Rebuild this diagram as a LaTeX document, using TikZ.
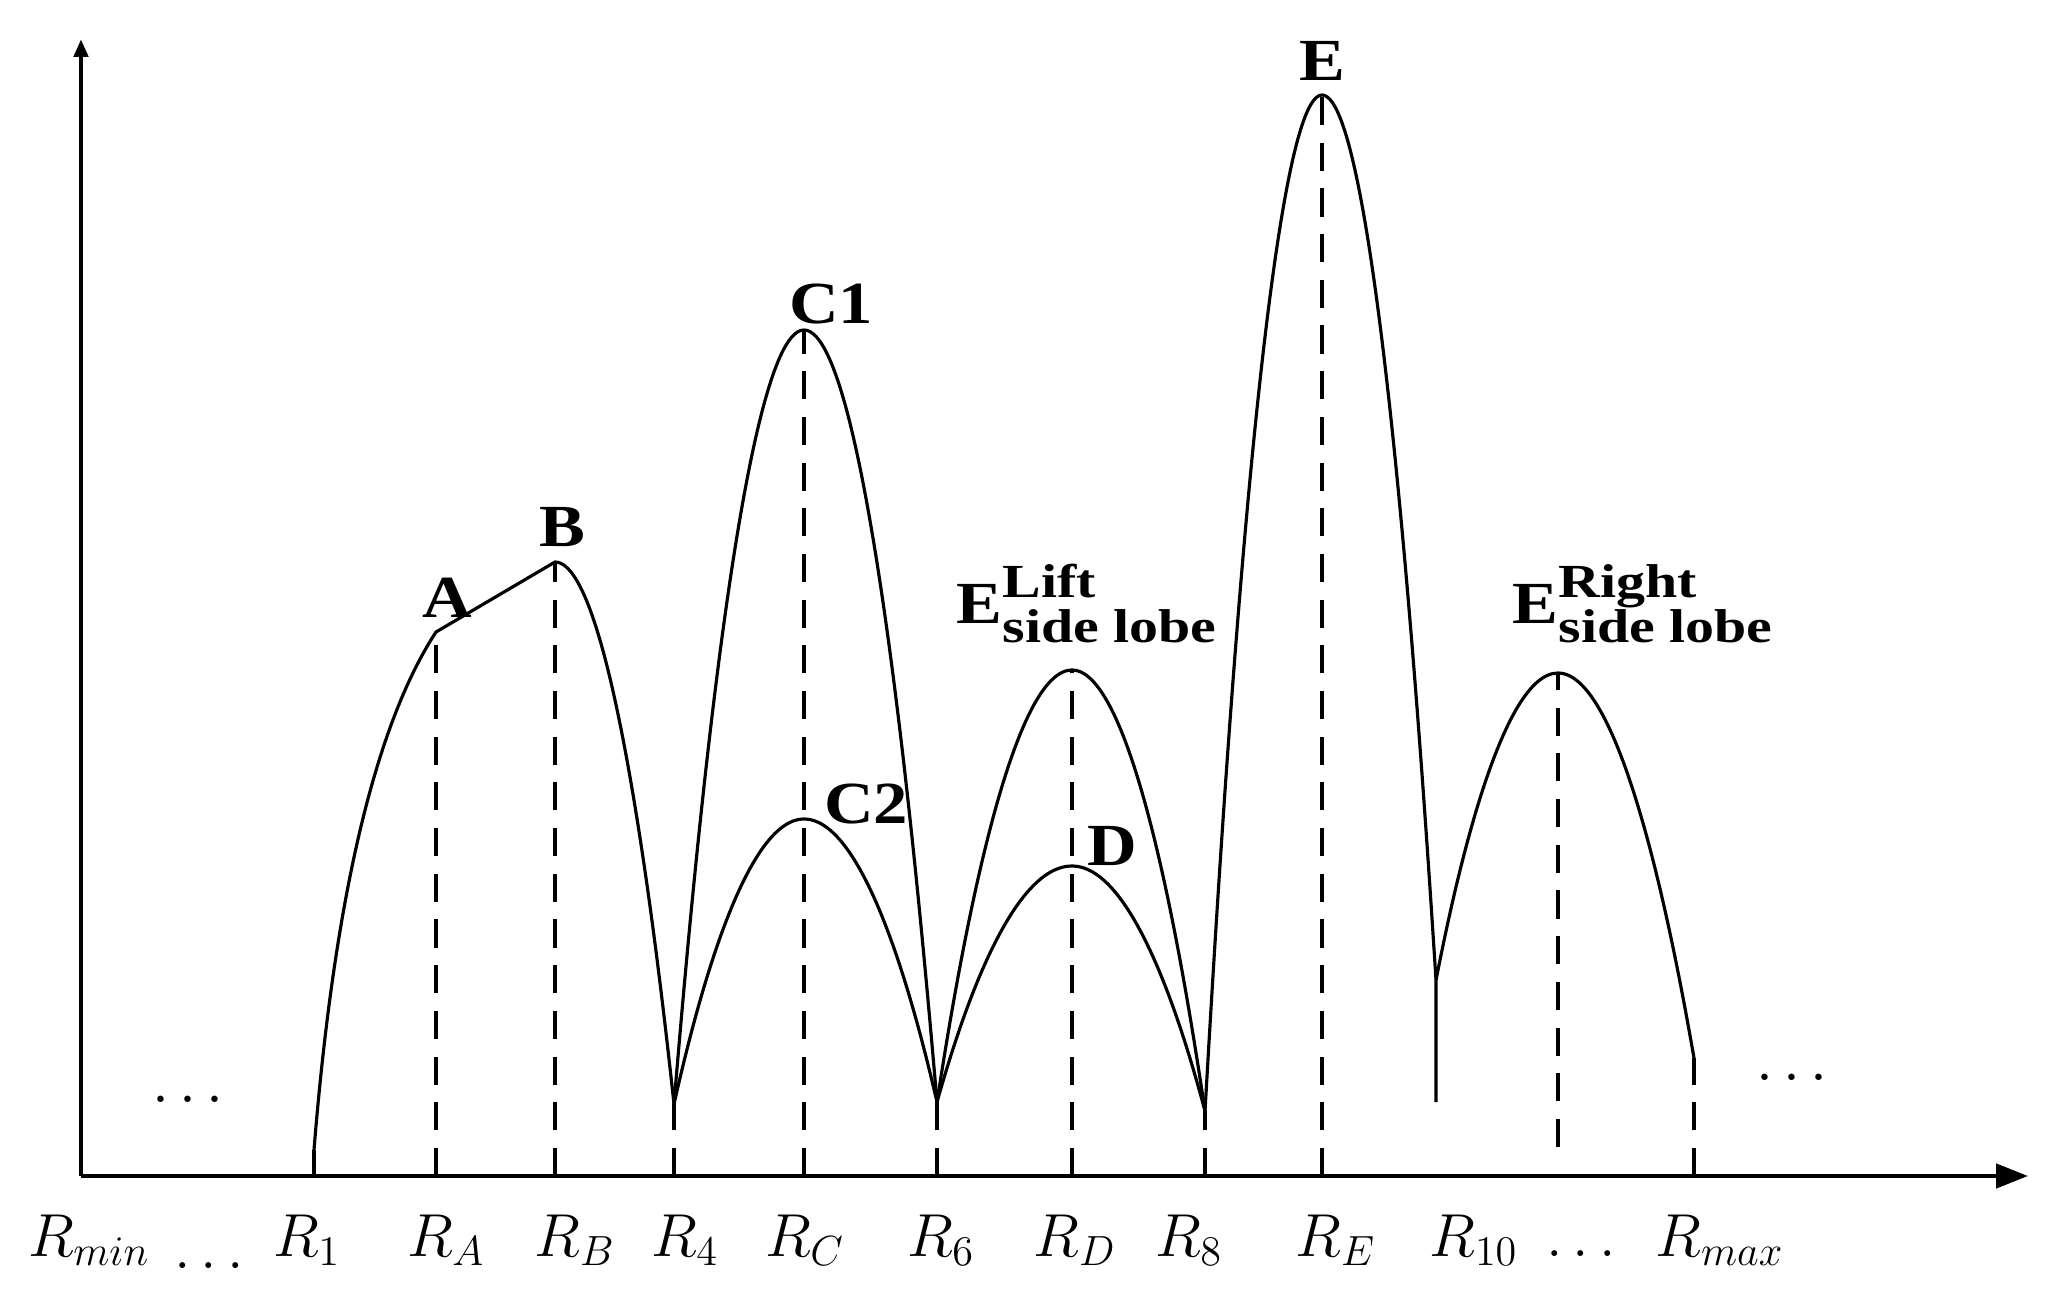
\documentclass[tikz,border=0pt]{standalone}
\usepackage{fontspec}
\setmainfont{Liberation Serif}
\newfontfamily\widebold[FakeStretch=1.15]{Liberation Serif}
\newfontfamily\widerbold[FakeStretch=1.22]{Liberation Serif}
\usepackage{amsmath}
\usetikzlibrary{arrows.meta}

\newcommand{\lobefont}{\fontsize{13.5}{16}\widerbold\bfseries}
\newcommand{\sidelobe}[1]{E\rlap{\raisebox{0.26cm}{\lobefont #1}}\raisebox{-0.19cm}{\lobefont side lobe}}

\begin{document}
\begin{tikzpicture}[
    lobe/.style={line width=0.9pt},
    guide/.style={line width=0.9pt, dash pattern=on 8pt off 5pt},
    peak/.style={font=\fontsize{17}{20}\widebold\bfseries, anchor=base},
    rlabel/.style={font=\fontsize{17}{20}\selectfont, anchor=base}
]
\useasboundingbox (-0.81,-1.28) rectangle (19.68,11.76);

% Axes
\draw[line width=1.3pt, -{Triangle[length=0.18cm,width=0.14cm]}] (0,0) -- (0,11.37);
\draw[line width=1.3pt, -{Triangle[length=0.32cm,width=0.24cm]}] (0,0) -- (19.47,0);

% Dashed guides from the axis up to the curve
\foreach \x/\top in {2.33/0.26, 3.55/5.44, 4.74/6.14, 5.93/0.72, 7.23/8.46,
                     8.56/0.74, 9.91/5.06, 11.24/0.65, 12.41/10.81, 16.13/1.18} {
    \draw[guide] (\x,0) -- (\x,\top);
}
\draw[guide] (14.77,0.29) -- (14.77,5.03);

% Lobes
\draw[lobe] (2.33,0.26) .. controls (2.55,3.0) and (3.0,4.6) .. (3.55,5.44)
    -- (4.74,6.14) parabola[bend at start] (5.93,0.72);
\draw[lobe] (5.93,0.72) parabola bend (7.23,8.46) (8.56,0.74);
\draw[lobe] (5.93,0.72) parabola bend (7.23,3.57) (8.56,0.74);
\draw[lobe] (8.56,0.74) parabola bend (9.91,5.06) (11.24,0.65);
\draw[lobe] (8.56,0.74) parabola bend (9.91,3.10) (11.24,0.65);
\draw[lobe] (11.24,0.65) parabola bend (12.41,10.81) (13.55,1.96) -- (13.55,0.74);
\draw[lobe] (13.55,1.96) parabola bend (14.77,5.03) (16.13,1.18);

% Peak labels
\node[peak] (ptA) at (3.66,5.59) {A};
\node[peak] (ptB) at (4.81,6.30) {B};
\node[peak] (ptC1) at (7.50,8.52) {C1};
\node[peak] (ptC2) at (7.85,3.53) {C2};
\node[peak] (ptD) at (10.31,3.11) {D};
\node[peak] (ptE) at (12.41,10.95) {E};
\node[peak, anchor=base west, inner sep=0pt] (ptEleft) at (8.75,5.53) {\sidelobe{Lift}};
\node[peak, anchor=base west, inner sep=0pt] (ptEright) at (14.31,5.53) {\sidelobe{Right}};

% Dots inside the plot
\node[rlabel] (dotsL) at (1.12,0.62) {$\cdots$};
\node[rlabel] (dotsR) at (17.16,0.84) {$\cdots$};

% Labels underneath
\node[rlabel] (rmin) at (0.08,-0.80) {$R_{min}$};
\node[rlabel] (dotsA) at (1.28,-0.92) {$\ldots$};
\node[rlabel] (r1) at (2.26,-0.80) {$R_1$};
\node[rlabel] (rA) at (3.65,-0.80) {$R_A$};
\node[rlabel] (rB) at (4.94,-0.80) {$R_B$};
\node[rlabel] (r4) at (6.04,-0.80) {$R_4$};
\node[rlabel] (rC) at (7.24,-0.80) {$R_C$};
\node[rlabel] (r6) at (8.60,-0.80) {$R_6$};
\node[rlabel] (rD) at (9.94,-0.80) {$R_D$};
\node[rlabel] (r8) at (11.08,-0.80) {$R_8$};
\node[rlabel] (rE) at (12.55,-0.80) {$R_E$};
\node[rlabel] (r10) at (13.93,-0.80) {$R_{10}$};
\node[rlabel] (dotsB) at (15.00,-0.80) {$\ldots$};
\node[rlabel] (rmax) at (16.39,-0.80) {$R_{max}$};
\end{tikzpicture}
\end{document}
